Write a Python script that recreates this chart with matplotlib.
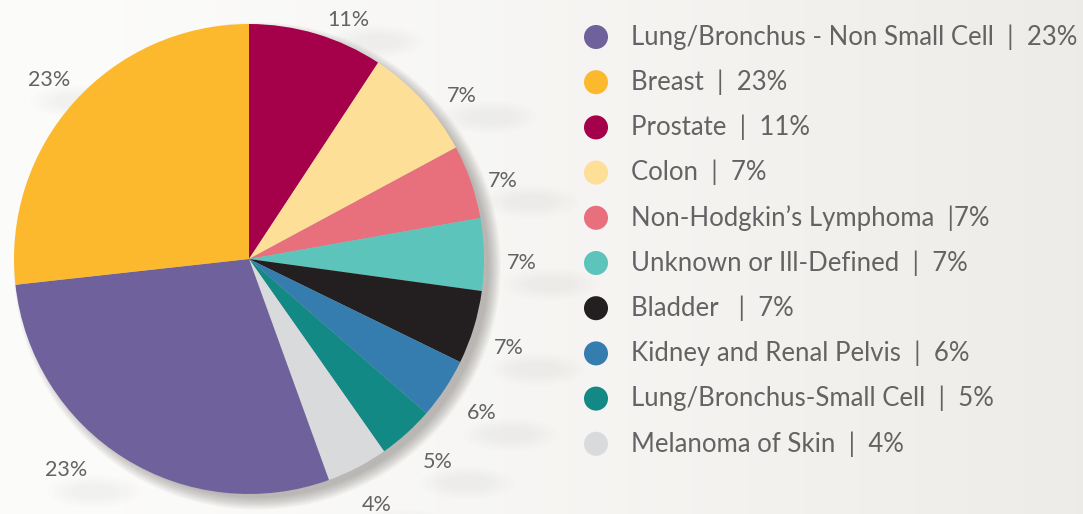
import numpy as np
import matplotlib.pyplot as plt
from matplotlib.patches import Circle, Ellipse

plt.rcParams['font.family'] = ['Lato', 'DejaVu Sans']

# slice order as drawn: clockwise from 12 o'clock
names = ['Prostate', 'Colon', 'Non-Hodgkin\u2019s Lymphoma', 'Unknown or Ill-Defined',
         'Bladder', 'Kidney and Renal Pelvis', 'Lung/Bronchus-Small Cell',
         'Melanoma of Skin', 'Lung/Bronchus - Non Small Cell', 'Breast']
# wedge sizes as drawn in the picture (not the same as the printed %)
sizes = [9.26, 7.88, 5.07, 4.97, 5.05, 4.17, 3.86, 4.22, 28.78, 26.75]
pct_labels = ['11%', '7%', '7%', '7%', '7%', '6%', '5%', '4%', '23%', '23%']
colors = ['#a5004a', '#fedf98', '#e8707d', '#5cc4bb', '#231f20',
          '#357caf', '#138985', '#d9dadc', '#6f629c', '#fdb92e']
# % label placement: angular nudge from wedge middle (deg) and distance (radii)
label_nudge = [-6, -5, -2, -2, -2, 0, 1, 0, -9, 0]
label_dist = [1.10, 1.14, 1.13, 1.16, 1.17, 1.19, 1.18, 1.18, 1.19, 1.14]

# legend order and text
legend_names = ['Lung/Bronchus - Non Small Cell  |  23%', 'Breast  |  23%', 'Prostate  |  11%',
                'Colon  |  7%', 'Non-Hodgkin\u2019s Lymphoma  |7%', 'Unknown or Ill-Defined  |  7%',
                'Bladder   |  7%', 'Kidney and Renal Pelvis  |  6%',
                'Lung/Bronchus-Small Cell  |  5%', 'Melanoma of Skin  |  4%']
legend_colors = ['#6f629c', '#fdb92e', '#a5004a', '#fedf98', '#e8707d',
                 '#5cc4bb', '#231f20', '#357caf', '#138985', '#d9dadc']

W, H = 1083, 514
fig = plt.figure(figsize=(W / 100, H / 100), dpi=100)

# background gradient
bg = fig.add_axes([0, 0, 1, 1])
grad = np.linspace(0, 1, 256)
left = np.array([0.988, 0.988, 0.984])
right = np.array([0.933, 0.925, 0.910])
img = left[None, :] + (right - left)[None, :] * grad[:, None] ** 1.3
bg.imshow(img[None, :, :], aspect='auto', extent=[0, 1, 0, 1])
bg.axis('off')

# pie axes: center (249, 259) px, radius 235 px
cx, cy, r = 249, 259, 235
L = 1.3
half = r * L
ax = fig.add_axes([(cx - half) / W, (H - cy - half) / H, 2 * half / W, 2 * half / H])

# soft shadow to the lower right
for k in range(14):
    ax.add_patch(Circle((0.035, -0.03), 0.985 + 0.004 * k, color='#5a5550',
                        alpha=0.03, lw=0, zorder=0))

wedges, texts = ax.pie(sizes, colors=colors, startangle=90, counterclock=False,
                       labels=pct_labels, labeldistance=1.16,
                       wedgeprops=dict(linewidth=0),
                       textprops=dict(fontsize=15.5, color='#636363'))
for w, t, nd, dist in zip(wedges, texts, label_nudge, label_dist):
    ang = np.deg2rad((w.theta1 + w.theta2) / 2 + nd)
    x, y = dist * np.cos(ang), dist * np.sin(ang)
    t.set_position((x, y))
    t.set_ha('center')
    t.set_va('center')
    t.set_clip_on(False)
    # faint smudge under each label
    for k in range(5):
        ax.add_patch(Ellipse((x + 0.12, y - 0.09), 0.2 + 0.05 * k, 0.06 + 0.02 * k,
                             color='#8a8580', alpha=0.012, lw=0, zorder=0,
                             clip_on=False))
ax.set_xlim(-L, L)
ax.set_ylim(-L, L)
ax.axis('off')

# legend
lg = fig.add_axes([0, 0, 1, 1])
lg.set_xlim(0, W)
lg.set_ylim(H, 0)
lg.axis('off')
y0, step = 37, 45.2
for i, (name, c) in enumerate(zip(legend_names, legend_colors)):
    y = y0 + i * step
    lg.scatter([596], [y], s=24 ** 2 * 0.52, color=c, edgecolors='none')
    lg.text(631, y, name, fontsize=18.5, color='#636363', va='center', ha='left')

fig.savefig('out.png', dpi=100)
